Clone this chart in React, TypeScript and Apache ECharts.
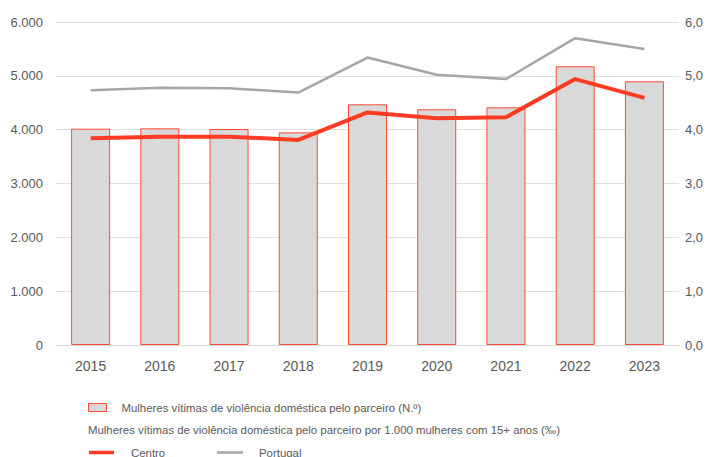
import React, { useEffect, useRef } from "react";
import * as echarts from "echarts";

const years = ["2015", "2016", "2017", "2018", "2019", "2020", "2021", "2022", "2023"];
const victims = [4018, 4024, 4012, 3950, 4471, 4378, 4415, 5177, 4898];
const centro = [3.84, 3.87, 3.87, 3.81, 4.32, 4.21, 4.23, 4.94, 4.59];
const portugal = [4.73, 4.78, 4.77, 4.69, 5.34, 5.02, 4.94, 5.70, 5.50];

const barName = "Mulheres vítimas de violência doméstica pelo parceiro (N.º)";
const rateTitle = "Mulheres vítimas de violência doméstica pelo parceiro por 1.000 mulheres com 15+ anos (‰)";

const FONT = "Liberation Sans";
const GREY = "#595959";
const LEG_FS = 11.4;

export default function App() {
  const ref = useRef<HTMLDivElement>(null);
  useEffect(() => {
    if (!ref.current) return;
    const chart = echarts.init(ref.current, undefined, { renderer: "svg" });
    chart.setOption({
      animation: false,
      textStyle: { fontFamily: FONT },
      grid: { left: 56, right: 32, top: 22, bottom: 112 },
      legend: [
        {
          left: 83,
          top: 397,
          itemWidth: 18,
          itemHeight: 8,
          textStyle: { color: GREY, fontSize: LEG_FS, fontFamily: FONT, padding: [0, 0, 0, 10] },
          data: [{ name: barName, icon: "rect", itemStyle: { color: "#d9d9d9", borderColor: "#ff4a33", borderWidth: 1 } }],
        },
        {
          left: 84,
          top: 442,
          itemWidth: 25,
          itemHeight: 3.5,
          textStyle: { color: GREY, fontSize: LEG_FS, fontFamily: FONT, padding: [0, 0, 0, 12] },
          data: [{ name: "Centro", icon: "rect", itemStyle: { color: "#ff3b24" } }],
        },
        {
          left: 212,
          top: 442,
          itemWidth: 26,
          itemHeight: 2.5,
          textStyle: { color: GREY, fontSize: LEG_FS, fontFamily: FONT, padding: [0, 0, 0, 11] },
          data: [{ name: "Portugal", icon: "rect", itemStyle: { color: "#a6a6a6" } }],
        },
      ],
      graphic: [
        {
          type: "text",
          left: 88,
          top: 424,
          style: { text: rateTitle, fill: GREY, fontSize: LEG_FS, fontFamily: FONT },
        },
      ],
      xAxis: {
        type: "category",
        data: years,
        axisTick: { show: false },
        axisLine: { lineStyle: { color: "#d9d9d9" } },
        axisLabel: { color: GREY, fontSize: 14, margin: 14, fontFamily: FONT },
      },
      yAxis: [
        {
          type: "value",
          min: 0,
          max: 6000,
          interval: 1000,
          axisLabel: {
            color: GREY,
            fontSize: 13,
            margin: 13,
            fontFamily: FONT,
            formatter: (v: number) => (v === 0 ? "0" : (v / 1000).toFixed(0) + ".000"),
          },
          splitLine: { lineStyle: { color: "#e0e0e0", width: 1 } },
        },
        {
          type: "value",
          min: 0,
          max: 6,
          interval: 1,
          axisLabel: {
            color: GREY,
            fontSize: 13,
            margin: 6,
            fontFamily: FONT,
            formatter: (v: number) => v.toFixed(1).replace(".", ","),
          },
          splitLine: { show: false },
        },
      ],
      series: [
        {
          name: barName,
          type: "bar",
          data: victims,
          barWidth: 39,
          itemStyle: { color: "#d9d9d9", borderColor: "#ff4a33", borderWidth: 1 },
        },
        {
          name: "Centro",
          type: "line",
          yAxisIndex: 1,
          data: centro,
          symbol: "none",
          lineStyle: { color: "#ff3b24", width: 4 },
          itemStyle: { color: "#ff3b24" },
        },
        {
          name: "Portugal",
          type: "line",
          yAxisIndex: 1,
          data: portugal,
          symbol: "none",
          lineStyle: { color: "#a6a6a6", width: 2.5 },
          itemStyle: { color: "#a6a6a6" },
        },
      ],
    });
    return () => chart.dispose();
  }, []);
  return <div ref={ref} style={{ width: 711, height: 457, position: "absolute", left: 0, top: 0 }} />;
}
